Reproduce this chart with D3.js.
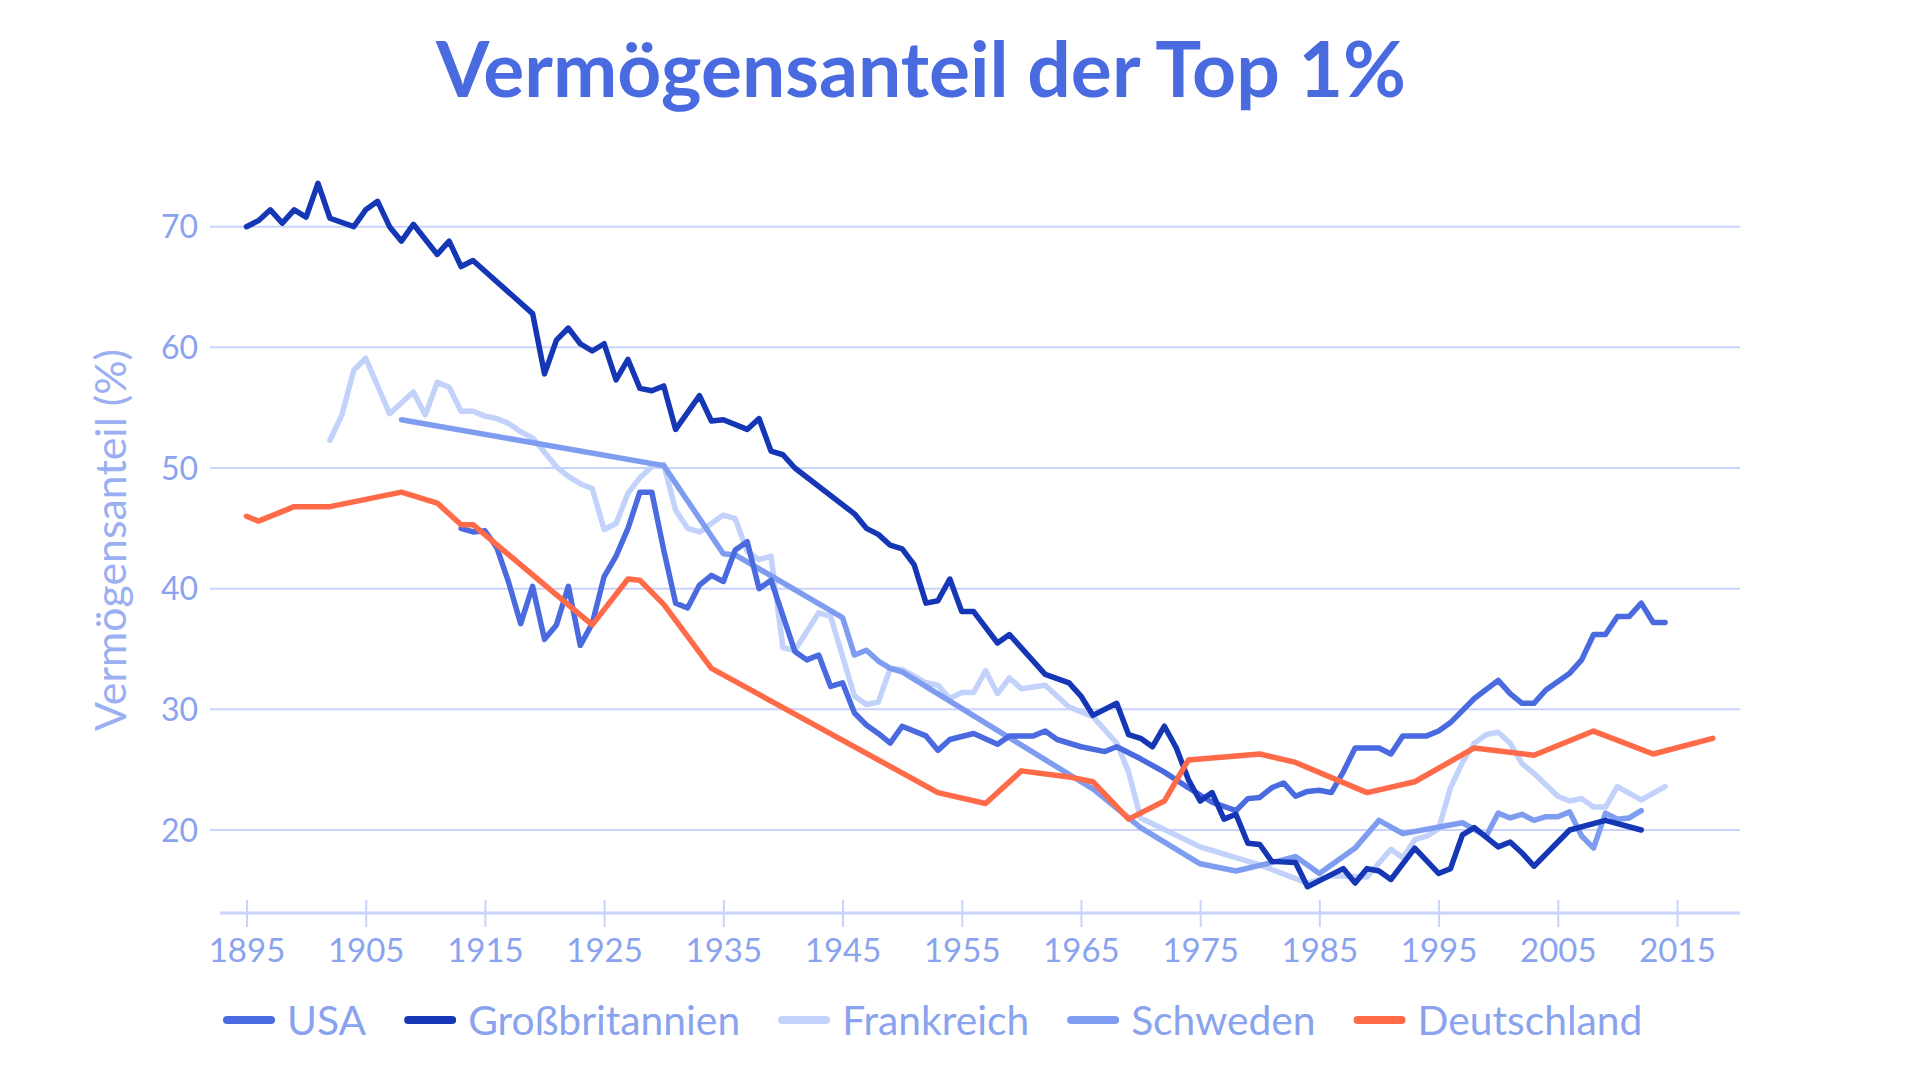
<!DOCTYPE html>
<html><head><meta charset="utf-8">
<script src="https://cdn.jsdelivr.net/npm/d3@7"></script>
<style>
html,body{margin:0;padding:0;background:#fff;}
svg{display:block;font-family:Lato,"Noto Sans",sans-serif;}
</style></head>
<body>
<svg id="chart" width="1920" height="1080"></svg>
<script>
const title = "Vermögensanteil der Top 1%";
const yLabel = "Vermögensanteil (%)";
const xTicks = [1895,1905,1915,1925,1935,1945,1955,1965,1975,1985,1995,2005,2015];
const yTicks = [20,30,40,50,60,70];
const seriesNames = ["USA","Großbritannien","Frankreich","Schweden","Deutschland"];

const usa = [[1913,45.0],[1914,44.7],[1915,44.8],[1916,43.4],[1917,40.5],[1918,37.1],[1919,40.2],[1920,35.8],[1921,37.0],[1922,40.2],[1923,35.3],[1924,37.1],[1925,41.0],[1926,42.7],[1927,45.0],[1928,48.0],[1929,48.0],[1930,43.2],[1931,38.8],[1932,38.4],[1933,40.3],[1934,41.1],[1935,40.6],[1936,43.2],[1937,43.9],[1938,40.0],[1939,40.7],[1941,34.8],[1942,34.1],[1943,34.5],[1944,31.9],[1945,32.2],[1946,29.7],[1947,28.7],[1948,28.0],[1949,27.2],[1950,28.6],[1952,27.8],[1953,26.6],[1954,27.5],[1956,28.0],[1958,27.1],[1959,27.8],[1961,27.8],[1962,28.2],[1963,27.5],[1965,26.9],[1967,26.5],[1968,26.9],[1970,25.9],[1972,24.8],[1974,23.5],[1976,22.3],[1978,21.6],[1979,22.6],[1980,22.7],[1981,23.5],[1982,23.9],[1983,22.8],[1984,23.2],[1985,23.3],[1986,23.1],[1987,24.8],[1988,26.8],[1990,26.8],[1991,26.3],[1992,27.8],[1994,27.8],[1995,28.2],[1996,28.9],[1998,30.9],[2000,32.4],[2001,31.3],[2002,30.5],[2003,30.5],[2004,31.6],[2006,33.0],[2007,34.1],[2008,36.2],[2009,36.2],[2010,37.7],[2011,37.7],[2012,38.8],[2013,37.2],[2014,37.2]];

const uk = [[1895,70.0],[1896,70.5],[1897,71.4],[1898,70.3],[1899,71.4],[1900,70.8],[1901,73.6],[1902,70.7],[1904,70.0],[1905,71.4],[1906,72.1],[1907,70.0],[1908,68.8],[1909,70.2],[1911,67.7],[1912,68.8],[1913,66.7],[1914,67.2],[1919,62.8],[1920,57.8],[1921,60.6],[1922,61.6],[1923,60.3],[1924,59.7],[1925,60.3],[1926,57.3],[1927,59.0],[1928,56.6],[1929,56.4],[1930,56.8],[1931,53.2],[1933,56.0],[1934,53.9],[1935,54.0],[1937,53.2],[1938,54.1],[1939,51.4],[1940,51.1],[1941,50.0],[1946,46.2],[1947,45.0],[1948,44.5],[1949,43.6],[1950,43.3],[1951,42.0],[1952,38.8],[1953,39.0],[1954,40.8],[1955,38.1],[1956,38.1],[1958,35.5],[1959,36.2],[1962,32.9],[1964,32.2],[1965,31.1],[1966,29.5],[1968,30.5],[1969,27.9],[1970,27.6],[1971,26.9],[1972,28.6],[1973,26.8],[1974,24.2],[1975,22.4],[1976,23.1],[1977,20.9],[1978,21.3],[1979,18.9],[1980,18.8],[1981,17.4],[1983,17.3],[1984,15.3],[1987,16.8],[1988,15.6],[1989,16.8],[1990,16.6],[1991,15.9],[1993,18.5],[1995,16.4],[1996,16.8],[1997,19.6],[1998,20.2],[2000,18.6],[2001,19.0],[2002,18.1],[2003,17.0],[2006,20.0],[2009,20.8],[2012,20.0]];

const france = [[1902,52.3],[1903,54.4],[1904,58.1],[1905,59.1],[1907,54.5],[1909,56.3],[1910,54.4],[1911,57.1],[1912,56.7],[1913,54.7],[1914,54.7],[1915,54.3],[1916,54.1],[1917,53.7],[1918,53.0],[1919,52.5],[1920,51.3],[1921,50.1],[1922,49.3],[1923,48.7],[1924,48.3],[1925,44.9],[1926,45.4],[1927,47.9],[1928,49.2],[1929,50.1],[1930,50.3],[1931,46.5],[1932,45.0],[1933,44.7],[1935,46.1],[1936,45.8],[1937,43.1],[1938,42.4],[1939,42.7],[1940,35.1],[1941,34.9],[1943,38.0],[1944,37.7],[1946,31.1],[1947,30.4],[1948,30.6],[1949,33.4],[1950,33.3],[1952,32.2],[1953,32.0],[1954,30.9],[1955,31.4],[1956,31.4],[1957,33.2],[1958,31.3],[1959,32.6],[1960,31.7],[1962,32.0],[1964,30.2],[1966,29.4],[1968,27.2],[1969,24.8],[1970,21.0],[1975,18.6],[1980,17.1],[1984,15.6],[1986,16.2],[1989,16.1],[1991,18.4],[1992,17.7],[1993,19.2],[1994,19.5],[1995,20.1],[1996,23.5],[1997,25.6],[1998,27.2],[1999,27.9],[2000,28.1],[2001,27.2],[2002,25.5],[2003,24.7],[2005,22.8],[2006,22.4],[2007,22.6],[2008,21.9],[2009,21.9],[2010,23.6],[2012,22.5],[2014,23.6]];

const sweden = [[1908,54.0],[1930,50.2],[1935,42.9],[1936,42.8],[1945,37.6],[1946,34.5],[1947,34.9],[1948,34.0],[1949,33.4],[1950,33.1],[1966,23.4],[1970,20.2],[1975,17.2],[1978,16.6],[1981,17.3],[1983,17.8],[1985,16.4],[1988,18.5],[1990,20.8],[1992,19.7],[1997,20.6],[1999,19.5],[2000,21.4],[2001,21.0],[2002,21.3],[2003,20.8],[2004,21.1],[2005,21.1],[2006,21.5],[2007,19.5],[2008,18.5],[2009,21.4],[2010,20.9],[2011,21.0],[2012,21.6]];

const germany = [[1895,46.0],[1896,45.6],[1899,46.8],[1902,46.8],[1905,47.4],[1908,48.0],[1911,47.1],[1913,45.3],[1914,45.3],[1924,37.0],[1927,40.8],[1928,40.7],[1930,38.7],[1934,33.4],[1953,23.1],[1957,22.2],[1960,24.9],[1964,24.4],[1966,24.0],[1969,20.9],[1972,22.4],[1974,25.8],[1980,26.3],[1983,25.6],[1989,23.1],[1993,24.0],[1998,26.8],[2003,26.2],[2008,28.2],[2013,26.3],[2018,27.6]];

const colors = {"USA":"#4a6ae0","Großbritannien":"#1537b5","Frankreich":"#c2d2fb","Schweden":"#7f9df0","Deutschland":"#ff6a48"};
const dataByName = {"USA":usa,"Großbritannien":uk,"Frankreich":france,"Schweden":sweden,"Deutschland":germany};
const drawOrder = ["Frankreich","Schweden","USA","Großbritannien","Deutschland"];

const textColor = "#8aa3ee";
const gridColor = "#c8d4fb";

const svg = d3.select("#chart");
const x = d3.scaleLinear().domain([1895,2015]).range([246.5,1677]);
const y = d3.scaleLinear().domain([20,70]).range([830,226.7]);

function fit(sel, target){
  const n = sel.node();
  const fs = parseFloat(sel.attr("font-size"));
  const w = n.getComputedTextLength();
  sel.attr("font-size", fs*target/w);
}

// Title
const t = svg.append("text").attr("x",921).attr("y",97).attr("text-anchor","middle")
  .attr("font-size",72).attr("font-weight",700).attr("fill","#4a6ae0").text(title);
fit(t, 970);

// Gridlines
svg.append("g").selectAll("line").data(yTicks).join("line")
  .attr("x1",210).attr("x2",1740).attr("y1",d=>y(d)).attr("y2",d=>y(d))
  .attr("stroke",gridColor).attr("stroke-width",2);

// y tick labels
svg.append("g").selectAll("text").data(yTicks).join("text")
  .attr("x",198).attr("y",d=>y(d)).attr("dy","0.36em").attr("text-anchor","end")
  .attr("font-size",32).attr("fill",textColor).text(d=>d);

// x axis
const axisY = 913;
svg.append("line").attr("x1",220).attr("x2",1740).attr("y1",axisY).attr("y2",axisY)
  .attr("stroke",gridColor).attr("stroke-width",3);
const xAxis = d3.axisBottom(x).tickValues(xTicks).tickFormat(d3.format("d")).tickSize(0);
const gx = svg.append("g").attr("transform",`translate(0,${axisY})`).call(xAxis);
gx.select(".domain").remove();
gx.selectAll(".tick line").attr("y1",-13).attr("y2",14).attr("stroke",gridColor).attr("stroke-width",2);
gx.selectAll(".tick text").attr("y",37).attr("dy","0.36em").attr("font-size",33)
  .attr("font-family","Lato, 'Noto Sans', sans-serif").attr("fill",textColor);

// y label
const yl = svg.append("text").attr("transform","translate(126,540) rotate(-90)")
  .attr("text-anchor","middle").attr("font-size",36).attr("fill","#9ab0f2").text(yLabel);
fit(yl, 382);

// Lines
const line = d3.line().x(d=>x(d[0])).y(d=>y(d[1]));
svg.append("g").selectAll("path").data(drawOrder).join("path")
  .attr("d",n=>line(dataByName[n])).attr("fill","none")
  .attr("stroke",n=>colors[n]).attr("stroke-width",5.5)
  .attr("stroke-linejoin","round").attr("stroke-linecap","round");

// Legend font size: fit the longest label width to the reference
const probe = svg.append("text").attr("font-size",38).text("Großbritannien");
const legendFs = 38*272/probe.node().getComputedTextLength();
probe.remove();

const lg = svg.append("g");
let cx = 227;
const ly = 1020;
seriesNames.forEach(n=>{
  lg.append("line").attr("x1",cx).attr("x2",cx+44).attr("y1",ly).attr("y2",ly)
    .attr("stroke",colors[n]).attr("stroke-width",8).attr("stroke-linecap","round");
  const tx = lg.append("text").attr("x",cx+60).attr("y",ly).attr("dy","0.36em")
    .attr("font-size",legendFs).attr("fill",textColor).text(n);
  const w = tx.node().getComputedTextLength();
  cx = cx + 60 + w + 42;
});
</script>
</body></html>
